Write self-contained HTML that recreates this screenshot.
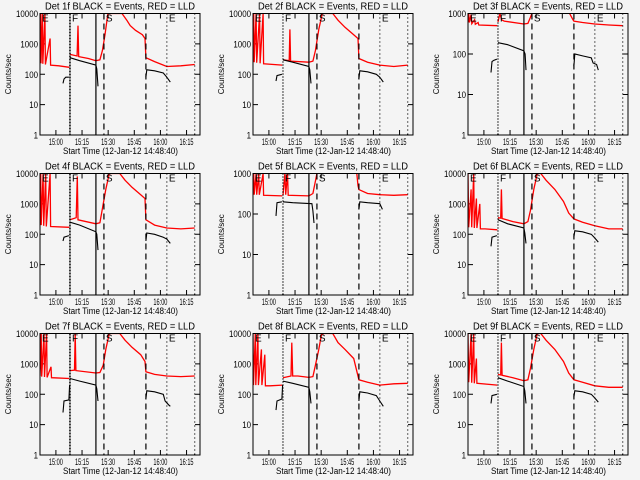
<!DOCTYPE html>
<html><head><meta charset="utf-8">
<style>
html,body{margin:0;padding:0;background:#f4f4f4;}
svg{display:block;font-family:"Liberation Sans",sans-serif;}
</style></head>
<body>
<svg id="chart" width="640" height="480" viewBox="0 0 640 480" xmlns="http://www.w3.org/2000/svg">
<rect x="0" y="0" width="640" height="480" fill="#f4f4f4"/>
</svg>
<script>
// ---- data (time in minutes after 14:48:40, values in counts/sec) ----
const detectorNames = ["Det 1f","Det 2f","Det 3f","Det 4f","Det 5f","Det 6f","Det 7f","Det 8f","Det 9f"];
const yMaxDecade = [4,4,3,4,3,4,4,4,4];
const xTickLabels = ["15:00","15:15","15:30","15:45","16:00","16:15"];
const xTickMinutes = [11.33,26.33,41.33,56.33,71.33,86.33];
const yTickLabels = ["1","10","100","1000","10000"];
const markerMinutes = [19.4,34.3,38.9,63,75,91];
const markerLetters = ["E","F","S","E"];

const red1 = [[2.2,230],[2.5,10000],[2.8,230],[3.5,10000],[3.8,220],[5,10000],[5.3,210],[8,1500],[8.3,200],[13,190],[19,170],null,[19.4,450],[23.5,400],[24,4000],[24.4,380],[30,330],[34.3,280],[36.6,300],[38,600],[39.5,2000],[41.2,10000],[49.3,10000],[52,6000],[54,4000],[57,2800],[61,2000],[62.5,1500],[63,350],[68,260],[75,180],[83,190],[91,210]];
const black1 = [[15.4,50],[16,70],[17,80],[18.8,80],null,[19.4,350],[25,280],[34.3,200],[34.8,150],[35.5,40],null,[63,80],[63.5,140],[68,130],[73,110],[75,80],[77,55]];
const red2 = [[2.2,250],[2.6,10000],[2.9,250],[4,10000],[4.3,240],[6,10000],[6.3,230],[8,10000],[8.3,220],[19,200],null,[19.4,300],[23,280],[23.4,3000],[23.8,270],[34.3,250],[36.6,270],[38,600],[40,3000],[42,10000],[48,10000],[51,6000],[55,3500],[60,2000],[62.5,1500],[63,330],[68,250],[75,200],[83,180],[91,200]];
const black2 = [[15.4,60],[16,90],[18.8,100],null,[19.4,300],[25,250],[34.3,180],[34.8,140],[35.5,50],null,[63,70],[63.5,130],[68,120],[73,100],[75,80],[77,55]];
const red3 = [[2.2,600],[2.6,1000],[3,600],[4,950],[4.4,560],[6,700],[6.4,540],[8,600],[8.4,520],[19,500],null,[19.4,620],[20.5,1000],[21.5,700],[23,650],[34.3,550],[36.6,570],[38,800],[38.9,1000],null,[60.5,1000],[62.5,700],[63,650],[68,600],[75,550],[83,520],[91,500]];
const black3 = [[15.4,35],[16,65],[17,70],[18.8,75],null,[19.4,190],[25,170],[34.3,120],[35,100],[35.5,40],null,[63,50],[63.5,100],[68,90],[73,80],[74,60],[76,55],[77,40]];
const red4 = [[2.2,200],[2.6,10000],[2.9,200],[4,10000],[4.3,190],[5.5,10000],[5.8,180],[8,10000],[8.3,180],[19,170],null,[19.4,300],[23,350],[23.6,8000],[24,300],[34.3,220],[36.6,240],[38,700],[40,3000],[42,10000],[48,10000],[51,6000],[55,3500],[60,2000],[62.5,1500],[63,300],[68,200],[75,160],[83,150],[91,160]];
const black4 = [[15.4,60],[16,80],[18.8,90],null,[19.4,250],[25,200],[34.3,120],[34.8,100],[35.5,30],null,[63,60],[63.5,110],[68,100],[73,80],[75,70],[77,50]];
const red5 = [[2.2,300],[2.6,1000],[2.9,300],[4,1000],[4.3,300],[5.5,1000],[5.8,300],[8,1000],[8.3,290],[19,280],null,[19.4,290],[20.5,1000],[21,300],[22,1000],[22.4,290],[34.3,280],[36.6,320],[38.2,700],[38.9,1000],null,[61.8,1000],[62.5,500],[63,400],[68,320],[75,300],[83,290],[91,300]];
const black5 = [[15.4,90],[16,190],[18.8,200],null,[19.4,200],[25,190],[36,180],[36.6,120],[37.2,60],null,[63,130],[63.5,200],[68,190],[75,180],[76.5,130]];
const red6 = [[2.2,10000],[2.6,170],[4,3000],[4.3,170],[5.5,10000],[5.8,160],[7,1500],[7.3,160],[9,1000],[9.3,150],[12,150],[19,140],null,[19.4,350],[21,340],[21.4,3000],[21.8,330],[28,260],[34.3,220],[36.6,260],[38,600],[40,3000],[42,10000],[44,10000],[47,6000],[52,3000],[57,1200],[60,500],[63,320],[68,250],[75,190],[83,150],[91,150]];
const black6 = [[15.4,40],[16,80],[18.8,90],null,[19.4,300],[25,220],[34.3,160],[34.8,110],[35.5,50],null,[63,80],[63.5,130],[68,120],[73,100],[75,75],[77,55]];
const red7 = [[2.2,400],[2.6,1500],[2.9,10000],[3.2,380],[4.5,10000],[4.8,370],[6,10000],[6.3,360],[8.5,800],[8.8,350],[19,330],null,[19.4,600],[22,620],[22.4,10000],[22.8,600],[34.3,500],[36.6,520],[38.5,900],[40,3000],[42,10000],[48,10000],[51,6000],[55,3500],[60,2000],[62.5,1200],[63,550],[68,450],[75,400],[83,380],[91,400]];
const black7 = [[15.4,25],[16,60],[18.8,65],[19.2,200],null,[19.4,330],[25,270],[34.3,200],[34.8,150],[35.5,60],null,[63,70],[63.5,130],[68,120],[73,100],[74,60],[76,45],[77,40]];
const red8 = [[2.2,10000],[2.5,200],[3.5,10000],[3.8,200],[5,10000],[5.3,200],[7,3000],[7.3,200],[9,2000],[9.3,190],[12,190],[19,200],null,[19.4,350],[24,400],[24.5,5000],[25,400],[28,400],[34.3,360],[36.6,380],[38,900],[40,3000],[41.5,9500],[43,10000],[48,10000],[51,5000],[55,3000],[60,1500],[63,300],[68,250],[75,200],[83,220],[91,230]];
const black8 = [[15.4,30],[16,60],[18.8,70],[19.2,200],null,[19.4,270],[25,230],[34.3,170],[34.8,120],[35.5,50],null,[63,60],[63.5,120],[68,110],[73,90],[75,60],[77,40]];
const red9 = [[2.2,10000],[2.6,250],[4,10000],[4.3,240],[5.5,10000],[5.8,230],[7,1500],[7.3,230],[19,200],null,[19.4,450],[21,430],[21.4,5000],[21.8,420],[28,350],[34.3,280],[36.6,300],[38,700],[40,3000],[42,10000],[44,10000],[47,6000],[52,3000],[57,1200],[60,500],[63,300],[68,250],[75,190],[83,170],[91,170]];
const black9 = [[15.4,50],[16,90],[18.8,100],null,[19.4,350],[25,270],[34.3,180],[34.8,130],[35.5,50],null,[63,80],[63.5,130],[68,120],[73,100],[75,75],[77,55]];
const redSeries = [red1,red2,red3,red4,red5,red6,red7,red8,red9];
const blackSeries = [black1,black2,black3,black4,black5,black6,black7,black8,black9];

// ---- layout ----
const NS = "http://www.w3.org/2000/svg";
const svg = document.getElementById('chart');
const colLeft = [40,253,468];
const rowTop = [13.5,173.5,333.5];
const PW = 160, PH = 121.5;
const xMin = 2.2, xMax = 2.2 + 160/1.742;

function mk(tag, attrs, parent){
  const e = document.createElementNS(NS, tag);
  for (const k in attrs) e.setAttribute(k, attrs[k]);
  (parent||svg).appendChild(e);
  return e;
}

for (let p = 0; p < 9; p++) {
  const L = colLeft[p%3], T = rowTop[Math.floor(p/3)];
  const dec = yMaxDecade[p];
  const xS = m => L + (m - xMin) / (xMax - xMin) * PW;
  const yS = v => T + PH - Math.log10(Math.max(v,1)) / dec * PH;
  const g = mk('g', {});
  
  

  const cp = mk('clipPath', {id: 'c' + p}, g);
  mk('rect', {x: L, y: T, width: PW, height: PH}, cp);

  const title = mk('text', {x: L + 5, y: T - 4, 'font-size': 10, fill: '#000', textLength: 150, lengthAdjust: 'spacingAndGlyphs'}, g);
  title.textContent = detectorNames[p] + " BLACK = Events, RED = LLD";
  
  

  const yl = mk('text', {x: 0, y: 0, 'text-anchor': 'middle', 'font-size': 8, fill: '#000', transform: `translate(${L - 29},${T + PH/2}) rotate(-90)`}, g);
  yl.textContent = "Counts/sec";
  
  

  for (let d = 0; d <= dec; d++) {
    const y = yS(Math.pow(10, d));
    mk('line', {x1: L, x2: L + 5, y1: y, y2: y, stroke: '#000', 'stroke-width': 1}, g);
    mk('line', {x1: L + PW - 5, x2: L + PW, y1: y, y2: y, stroke: '#000', 'stroke-width': 1}, g);
    const lab = yTickLabels[d];
    const t = mk('text', {x: L - 2, y: y + 3.5, 'text-anchor': 'end', 'font-size': 9, fill: '#000', textLength: lab.length * 4.4, lengthAdjust: 'spacingAndGlyphs'}, g);
    t.textContent = lab;
    
    
  }
  for (let i = 0; i < xTickMinutes.length; i++) {
    const x = xS(xTickMinutes[i]);
    mk('line', {x1: x, x2: x, y1: T + PH, y2: T + PH - 5, stroke: '#000'}, g);
    mk('line', {x1: x, x2: x, y1: T, y2: T + 5, stroke: '#000'}, g);
    const t = mk('text', {x: x - 7, y: T + PH + 10, 'font-size': 9, fill: '#000', textLength: 14, lengthAdjust: 'spacingAndGlyphs'}, g);
    t.textContent = xTickLabels[i];
    
    
  }
  const xt = mk('text', {x: L + 23, y: T + PH + 19, 'font-size': 9, fill: '#000', textLength: 115, lengthAdjust: 'spacingAndGlyphs'}, g);
  xt.textContent = "Start Time (12-Jan-12 14:48:40)";
  
  

  const cg = mk('g', {'clip-path': `url(#c${p})`}, g);
  function pathOf(arr){
    let d = '', pen = false;
    for (const pt of arr) {
      if (!pt) { pen = false; continue; }
      d += (pen ? 'L' : 'M') + xS(pt[0]).toFixed(1) + ' ' + yS(pt[1]).toFixed(1);
      pen = true;
    }
    return d;
  }
  const rp = mk('path', {d: pathOf(redSeries[p]), fill: 'none', stroke: '#ff0000', 'stroke-width': 1.3}, cg);
  
  
  const bp = mk('path', {d: pathOf(blackSeries[p]), fill: 'none', stroke: '#000', 'stroke-width': 1.1}, cg);
  
  

  const styles = [ (p%3===0) ? '2 1' : '1 2', null, '6 4', '6 4', '1 3', '1 3'];
  for (let i = 0; i < markerMinutes.length; i++) {
    const x = xS(markerMinutes[i]);
    const a = {x1: x, x2: x, y1: T, y2: T + PH, stroke: '#000', 'stroke-width': (i===0 ? 1.5 : 1.2)};
    if (styles[i]) a['stroke-dasharray'] = styles[i];
    const ln = mk('line', a, g);
    
    
  }
  const letterAt = [xMin, markerMinutes[0], markerMinutes[2], markerMinutes[4]];
  for (let i = 0; i < 4; i++) {
    const t = mk('text', {x: xS(letterAt[i]) + 2, y: T + 8, 'font-size': 10, fill: '#000'}, g);
    t.textContent = markerLetters[i];
    
    
  }

  const fr = mk('rect', {x: L, y: T, width: PW, height: PH, fill: 'none', stroke: '#000', 'stroke-width': 1}, g);
  
  
}
</script>
</body></html>
